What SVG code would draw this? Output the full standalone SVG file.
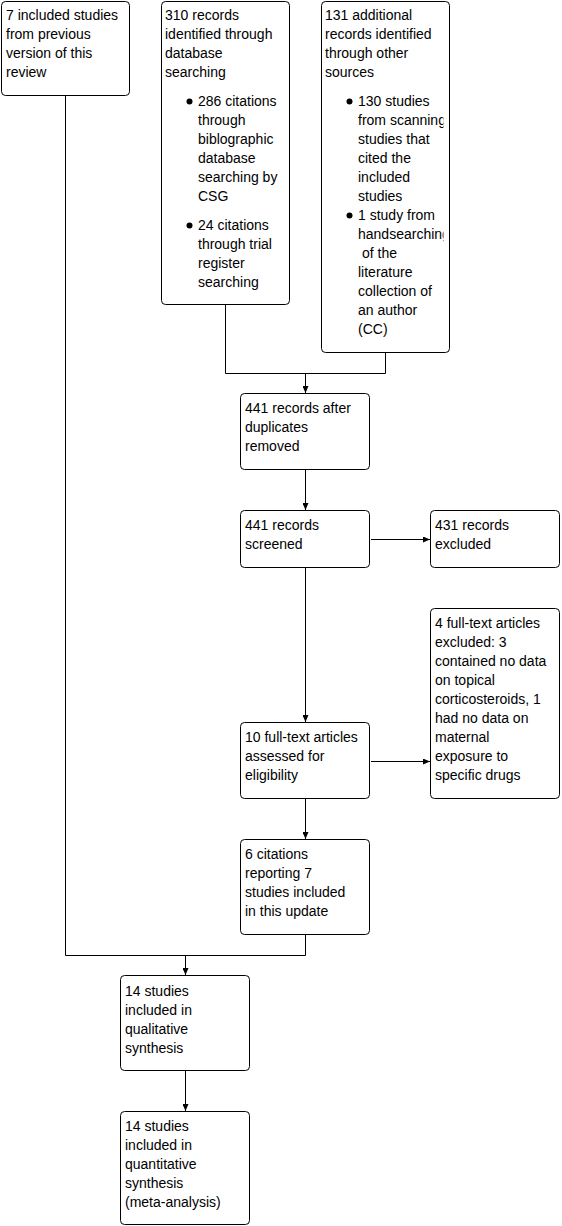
<svg xmlns="http://www.w3.org/2000/svg" width="562" height="1226" viewBox="0 0 562 1226">
<style>
.box{fill:#fff;stroke:#000;stroke-width:1}
.t{font-family:"Liberation Sans",Arial,sans-serif;font-size:14px;fill:#000}
.c{fill:none;stroke:#000;stroke-width:1}
.a{fill:none;stroke:#000;stroke-width:1;marker-end:url(#ah)}
</style>
<defs>
<marker id="ah" markerWidth="7" markerHeight="6" refX="7" refY="3" orient="auto" markerUnits="userSpaceOnUse">
<path d="M0,0 L7,3 L0,6 z" fill="#000"/>
</marker>
<clipPath id="clip3"><rect x="321" y="1" width="122.5" height="351"/></clipPath>
</defs>
<rect width="562" height="1226" fill="#fff"/>
<g id="connectors">
<polyline class="c" points="65.5,95 65.5,955.5 305.5,955.5 305.5,934"/>
<line class="a" x1="185.5" y1="955.5" x2="185.5" y2="975"/>
<polyline class="c" points="225.5,304 225.5,373.5 385.5,373.5 385.5,352"/>
<line class="a" x1="305.5" y1="373.5" x2="305.5" y2="393"/>
<line class="a" x1="305.5" y1="469" x2="305.5" y2="510"/>
<line class="a" x1="371" y1="539.5" x2="430" y2="539.5"/>
<line class="a" x1="305.5" y1="567" x2="305.5" y2="722"/>
<line class="a" x1="371" y1="761.5" x2="430" y2="761.5"/>
<line class="a" x1="305.5" y1="798" x2="305.5" y2="839"/>
<line class="a" x1="185.5" y1="1070" x2="185.5" y2="1111"/>
</g>
<g id="n1">
<rect class="box" x="1.5" y="1.5" width="128" height="94" rx="4"/>
<text class="t" x="6" y="20">7 included studies</text>
<text class="t" x="6" y="39">from previous</text>
<text class="t" x="6" y="58">version of this</text>
<text class="t" x="6" y="77">review</text>
</g>
<g id="n2">
<rect class="box" x="161.5" y="1.5" width="128" height="303" rx="4"/>
<text class="t" x="165" y="20">310 records</text>
<text class="t" x="165" y="39">identified through</text>
<text class="t" x="165" y="58">database</text>
<text class="t" x="165" y="77">searching</text>
<circle cx="189.5" cy="101.5" r="3"/>
<text class="t" x="198" y="106">286 citations</text>
<text class="t" x="198" y="125">through</text>
<text class="t" x="198" y="144">biblographic</text>
<text class="t" x="198" y="163">database</text>
<text class="t" x="198" y="182">searching by</text>
<text class="t" x="198" y="201">CSG</text>
<circle cx="189.5" cy="225.5" r="3"/>
<text class="t" x="198" y="230">24 citations</text>
<text class="t" x="198" y="249">through trial</text>
<text class="t" x="198" y="268">register</text>
<text class="t" x="198" y="287">searching</text>
</g>
<g id="n3">
<rect class="box" x="321.5" y="1.5" width="128" height="351" rx="4"/>
<g clip-path="url(#clip3)">
<text class="t" x="325" y="20">131 additional</text>
<text class="t" x="325" y="39">records identified</text>
<text class="t" x="325" y="58">through other</text>
<text class="t" x="325" y="77">sources</text>
<circle cx="349.5" cy="101.5" r="3"/>
<text class="t" x="358" y="106">130 studies</text>
<text class="t" x="358" y="125">from scanning</text>
<text class="t" x="358" y="144">studies that</text>
<text class="t" x="358" y="163">cited the</text>
<text class="t" x="358" y="182">included</text>
<text class="t" x="358" y="201">studies</text>
<circle cx="349.5" cy="215.5" r="3"/>
<text class="t" x="358" y="220">1 study from</text>
<text class="t" x="358" y="239">handsearching</text>
<text class="t" x="362" y="258">of the</text>
<text class="t" x="358" y="277">literature</text>
<text class="t" x="358" y="296">collection of</text>
<text class="t" x="358" y="315">an author</text>
<text class="t" x="358" y="334">(CC)</text>
</g>
</g>
<g id="n4">
<rect class="box" x="240.5" y="393.5" width="129" height="76" rx="4"/>
<text class="t" x="245" y="413">441 records after</text>
<text class="t" x="245" y="432">duplicates</text>
<text class="t" x="245" y="451">removed</text>
</g>
<g id="n5">
<rect class="box" x="240.5" y="510.5" width="129" height="57" rx="4"/>
<text class="t" x="245" y="530">441 records</text>
<text class="t" x="245" y="549">screened</text>
</g>
<g id="n6">
<rect class="box" x="430.5" y="510.5" width="129" height="57" rx="4"/>
<text class="t" x="435" y="530">431 records</text>
<text class="t" x="435" y="549">excluded</text>
</g>
<g id="n7">
<rect class="box" x="240.5" y="722.5" width="129" height="76" rx="4"/>
<text class="t" x="245" y="742">10 full-text articles</text>
<text class="t" x="245" y="761">assessed for</text>
<text class="t" x="245" y="780">eligibility</text>
</g>
<g id="n8">
<rect class="box" x="430.5" y="608.5" width="129" height="190" rx="4"/>
<text class="t" x="435" y="628">4 full-text articles</text>
<text class="t" x="435" y="647">excluded: 3</text>
<text class="t" x="435" y="666">contained no data</text>
<text class="t" x="435" y="685">on topical</text>
<text class="t" x="435" y="704">corticosteroids, 1</text>
<text class="t" x="435" y="723">had no data on</text>
<text class="t" x="435" y="742">maternal</text>
<text class="t" x="435" y="761">exposure to</text>
<text class="t" x="435" y="780">specific drugs</text>
</g>
<g id="n9">
<rect class="box" x="240.5" y="839.5" width="129" height="95" rx="4"/>
<text class="t" x="245" y="859">6 citations</text>
<text class="t" x="245" y="878">reporting 7</text>
<text class="t" x="245" y="897">studies included</text>
<text class="t" x="245" y="916">in this update</text>
</g>
<g id="n10">
<rect class="box" x="120.5" y="975.5" width="129" height="95" rx="4"/>
<text class="t" x="125" y="996">14 studies</text>
<text class="t" x="125" y="1015">included in</text>
<text class="t" x="125" y="1034">qualitative</text>
<text class="t" x="125" y="1053">synthesis</text>
</g>
<g id="n11">
<rect class="box" x="120.5" y="1111.5" width="129" height="113" rx="4"/>
<text class="t" x="125" y="1131">14 studies</text>
<text class="t" x="125" y="1150">included in</text>
<text class="t" x="125" y="1169">quantitative</text>
<text class="t" x="125" y="1188">synthesis</text>
<text class="t" x="125" y="1207">(meta-analysis)</text>
</g>
</svg>
